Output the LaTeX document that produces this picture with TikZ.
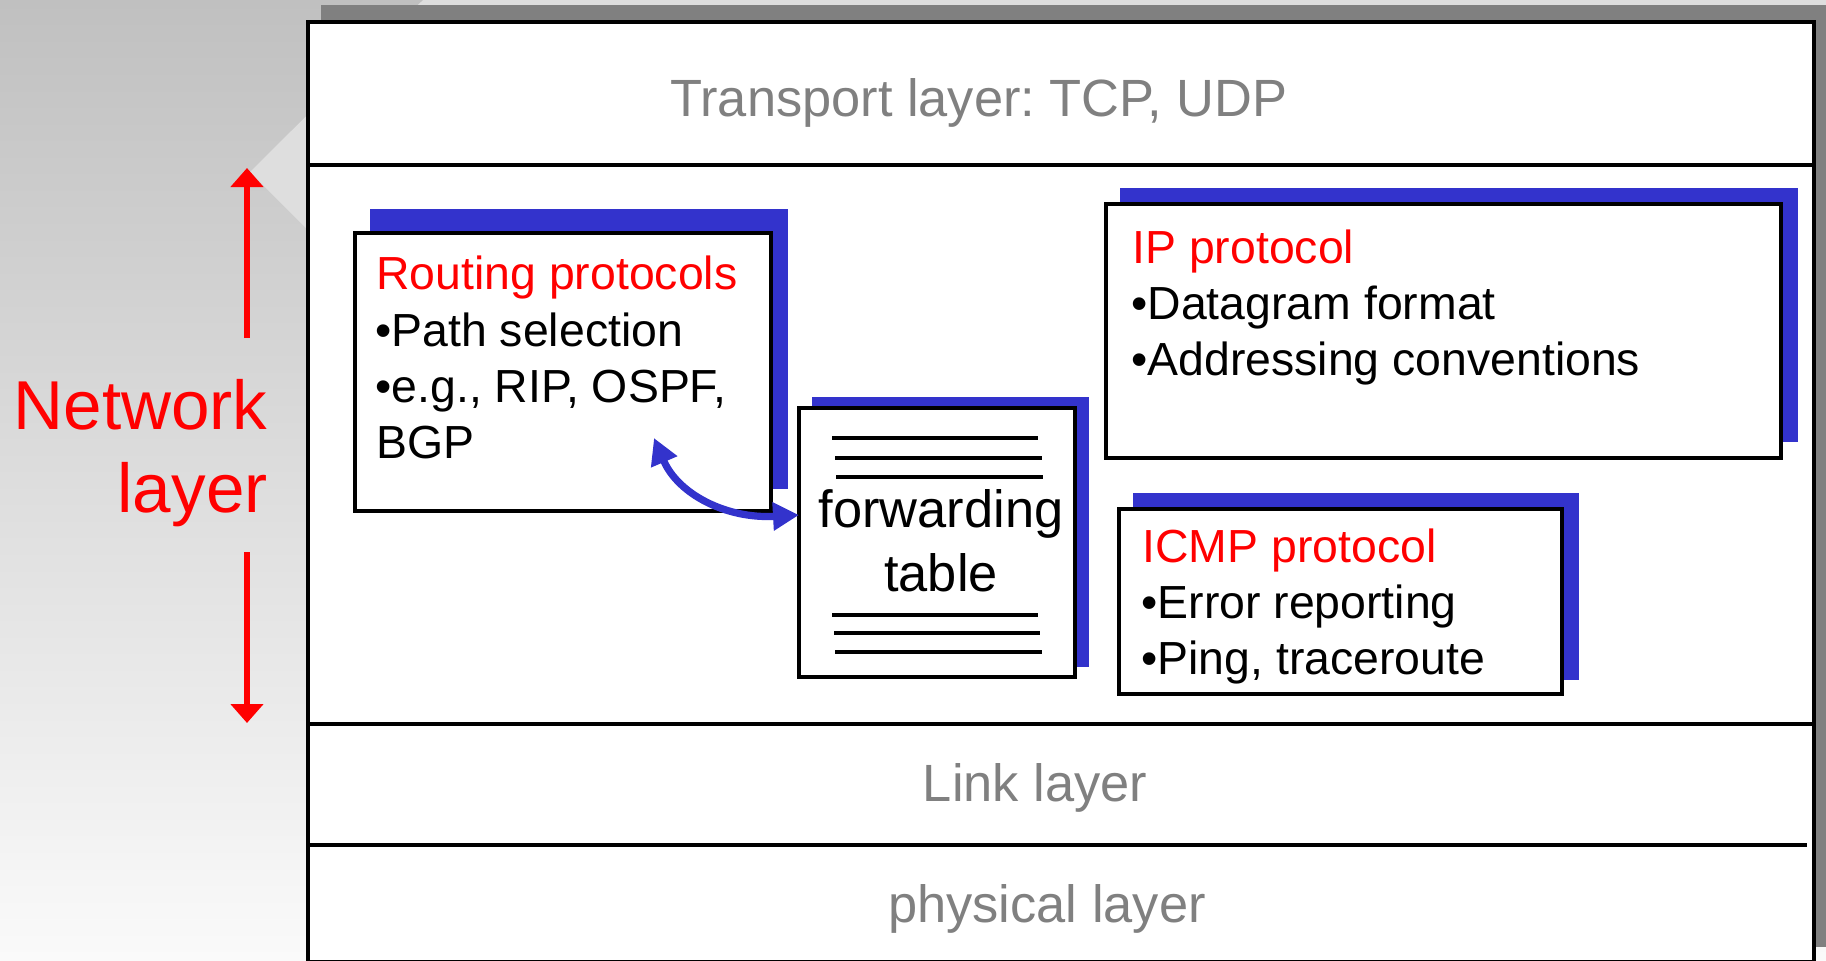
\documentclass[tikz,border=0pt]{standalone}
\usepackage{fontspec}
\setmainfont{Liberation Sans}
\frenchspacing
\usetikzlibrary{arrows.meta,fit}
\definecolor{shblue}{HTML}{3333CC}
\definecolor{txgray}{HTML}{808080}
\definecolor{bgtop}{HTML}{C0C0C0}
\definecolor{bgbot}{HTML}{FAFAFA}
\definecolor{wedge}{HTML}{DEDEDE}
\tikzset{
  boxframe/.style={draw=black, line width=2pt, fill=white, inner sep=0pt},
  boxshadow/.style={fill=shblue, inner sep=0pt},
  boxtxt/.style={inner sep=0pt, anchor=base west, font=\fontsize{23.2}{28}\selectfont},
  boxhead/.style={boxtxt, text=red},
  layertxt/.style={inner sep=0pt, anchor=base, text=txgray, font=\fontsize{26.2}{31}\selectfont},
  nettxt/.style={inner sep=0pt, anchor=base east, text=red, font=\fontsize{34.6}{41}\selectfont},
  fttxt/.style={inner sep=0pt, anchor=base, font=\fontsize{26.2}{31}\selectfont},
  divider/.style={line width=2pt},
  ftline/.style={line width=1.7pt},
  redarrow/.style={draw=red, line width=3pt, -{Triangle[length=9.5pt,width=16pt]}},
  bluearrow/.style={draw=shblue, line width=3.6pt, {Triangle[length=13pt,width=13.5pt]}-{Triangle[length=13pt,width=13.5pt]}}
}
\begin{document}
\begin{tikzpicture}[x=0.5pt,y=-0.5pt]
\useasboundingbox (0,0) rectangle (1826,960);
\clip (0,0) rectangle (1826,960);
% background
\shade[top color=bgtop, bottom color=bgbot] (0,0) rectangle (1826,960);
\fill[wedge] (423,0) -- (250,172) -- (330,252) -- (1826,252) -- (1826,0) -- cycle;
% main frame shadow and frame
\fill[txgray] (321,5) rectangle (1840,947);
\node[boxframe, fit={(308,22) (1814,962)}] (frame) {};
\draw[divider] (frame.west |- 0,165) coordinate (d1a) -- (frame.east |- 0,165) coordinate (d1b);
\draw[divider] (frame.west |- 0,724) coordinate (d2a) -- (frame.east |- 0,724) coordinate (d2b);
\draw[divider] (frame.west |- 0,845) coordinate (d3a) -- (1807,845) coordinate (d3b);
% layer names
\node[layertxt] (transport) at (979,116) {Transport layer: TCP, UDP};
\node[layertxt] (link) at (1035,801) {Link layer};
\node[layertxt] (phys) at (1047,922) {physical layer};
% network layer label and arrows
\node[nettxt] (net1) at (268,429) {Network};
\node[nettxt] (net2) at (268,512) {layer};
\coordinate (upS) at (247,338);
\coordinate (upE) at (247,168);
\coordinate (dnS) at (247,552);
\coordinate (dnE) at (247,723);
\draw[redarrow] (upS) -- (upE);
\draw[redarrow] (dnS) -- (dnE);
% routing box
\node[boxshadow, fit={(370,209) (788,489)}] (rtsh) {};
\node[boxframe, fit={(355,233) (771,511)}] (rt) {};
\node[boxhead] (rt1) at (376,289) {Routing protocols};
\node[boxtxt] (rt2) at (375,346) {•Path selection};
\node[boxtxt] (rt3) at (375,402) {•e.g., RIP, OSPF,};
\node[boxtxt] (rt4) at (376,458) {BGP};
% forwarding table
\node[boxshadow, fit={(812,397) (1089,667)}] (ftsh) {};
\node[boxframe, fit={(799,408) (1075,677)}] (ft) {};
\draw[ftline] (832,438) -- (1038,438);
\draw[ftline] (835,458) -- (1042,458);
\draw[ftline] (836,477) -- (1043,477);
\draw[ftline] (832,615) -- (1038,615);
\draw[ftline] (834,633) -- (1040,633);
\draw[ftline] (835,652) -- (1042,652);
\node[fttxt] (ft1) at (941,527) {forwarding};
\node[fttxt] (ft2) at (941,591) {table};
% IP box
\node[boxshadow, fit={(1120,188) (1798,442)}] (ipsh) {};
\node[boxframe, fit={(1106,204) (1781,458)}] (ip) {};
\node[boxhead] (ip1) at (1132,263) {IP protocol};
\node[boxtxt] (ip2) at (1131,319) {•Datagram format};
\node[boxtxt] (ip3) at (1131,375) {•Addressing conventions};
% ICMP box
\node[boxshadow, fit={(1133,493) (1579,680)}] (icsh) {};
\node[boxframe, fit={(1119,509) (1562,694)}] (ic) {};
\node[boxhead] (ic1) at (1142,562) {ICMP protocol};
\node[boxtxt] (ic2) at (1141,618) {•Error reporting};
\node[boxtxt] (ic3) at (1141,674) {•Ping, traceroute};
% curved arrow between routing and forwarding table
\coordinate (cA) at (654,438);
\coordinate (cB) at (799,515);
\draw[bluearrow] (cA) .. controls (678,494) and (726,519) .. (cB);
\end{tikzpicture}
\end{document}
